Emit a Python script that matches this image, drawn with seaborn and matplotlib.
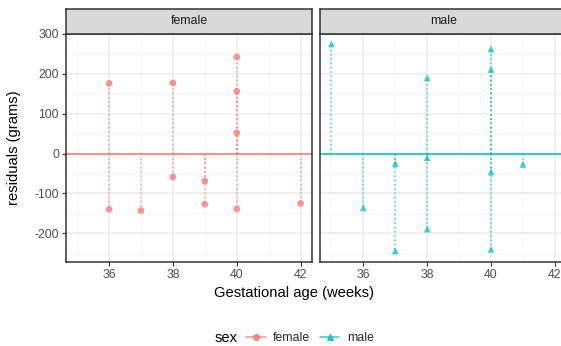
import numpy as np
import pandas as pd
import matplotlib
matplotlib.use("Agg")
import matplotlib.pyplot as plt
from matplotlib.lines import Line2D
import seaborn as sns

# ---- data ----
female_age = [36, 36, 37, 38, 38, 39, 39, 40, 40, 40, 40, 42]
female_resid = [176, -140, -143, 177, -59, -69, -127, 242, 156, 52, -139, -125]
male_age = [35, 36, 37, 37, 38, 38, 38, 40, 40, 40, 40, 41]
male_resid = [275, -136, -25, -244, 190, -10, -189, 262, 211, -46, -240, -27]
sexes = ["female", "male"]
x_ticks = [36, 38, 40, 42]
y_ticks = [-200, -100, 0, 100, 200, 300]

df = pd.DataFrame({
    "age": female_age + male_age,
    "resid": female_resid + male_resid,
    "sex": ["female"] * len(female_age) + ["male"] * len(male_age),
})

sns.set_theme(style="white")
plt.rcParams["font.family"] = ["Liberation Sans", "DejaVu Sans"]

colors = {"female": "#F8766D", "male": "#00BFC4"}
markers = {"female": "o", "male": "^"}

W, H = 561, 346
fig = plt.figure(figsize=(W / 100, H / 100), dpi=100)

def rect(x0, y0, x1, y1):
    return [x0 / W, 1 - y1 / H, (x1 - x0) / W, (y1 - y0) / H]

panel_top, panel_bot = 33.5, 261.7
strip_top = 9
panels = [(66, 311.7), (320.3, 566)]
xlim = (34.65, 42.35)
ylim = (-271, 301)
grey_border = "#333333"

for (x0, x1), sex in zip(panels, sexes):
    ax = fig.add_axes(rect(x0, panel_top, x1, panel_bot))
    sub = df[df["sex"] == sex]
    ax.set_xlim(*xlim)
    ax.set_ylim(*ylim)
    # grid
    for v in [35, 37, 39, 41]:
        ax.axvline(v, color="#F2F2F2", lw=0.55, zorder=0)
    for v in [-250, -150, -50, 50, 150, 250]:
        ax.axhline(v, color="#F2F2F2", lw=0.55, zorder=0)
    for v in x_ticks:
        ax.axvline(v, color="#EBEBEB", lw=1.1, zorder=0)
    for v in y_ticks:
        ax.axhline(v, color="#EBEBEB", lw=1.1, zorder=0)
    ax.axhline(0, color=colors[sex], lw=1.1, zorder=1)
    ax.vlines(sub["age"], 0, sub["resid"], colors=colors[sex], linestyles=(0, (1, 1.8)),
              lw=1.1, alpha=0.8, zorder=2)
    sns.scatterplot(data=sub, x="age", y="resid", color=colors[sex], marker=markers[sex],
                    s=24, alpha=0.75, edgecolor="none", linewidth=0, ax=ax, zorder=3,
                    legend=False)
    ax.set_xlabel("")
    ax.set_ylabel("")
    ax.set_xticks(x_ticks)
    ax.set_xticklabels([str(t) for t in x_ticks])
    ax.set_yticks(y_ticks)
    if sex == "female":
        ax.set_yticklabels([str(t) for t in y_ticks])
    else:
        ax.set_yticklabels([])
    ax.tick_params(axis="both", which="major", length=3, width=0.8, color=grey_border,
                   labelsize=8.8, labelcolor="#4D4D4D", pad=2, direction="out",
                   left=True, bottom=True)
    if sex == "male":
        ax.tick_params(axis="y", left=False)
    for sp in ax.spines.values():
        sp.set_color(grey_border)
        sp.set_linewidth(1.1)
        sp.set_visible(True)
    ax.grid(False)
    # strip
    sax = fig.add_axes(rect(x0, strip_top, x1, panel_top))
    sax.set_facecolor("#D9D9D9")
    sax.set_xticks([])
    sax.set_yticks([])
    for sp in sax.spines.values():
        sp.set_color(grey_border)
        sp.set_linewidth(1.1)
        sp.set_visible(True)
    sax.text(0.5, 0.5, sex, ha="center", va="center", fontsize=8.8, color="#1A1A1A",
             transform=sax.transAxes)

fig.text(294 / W, 1 - 293 / H, "Gestational age (weeks)", ha="center", va="center",
         fontsize=10.6, color="black")
fig.text(14 / W, 1 - 148 / H, "residuals (grams)", ha="center", va="center",
         rotation=90, fontsize=10.6, color="black")

# legend
fig.text(215 / W, 1 - 338 / H, "sex", ha="left", va="center", fontsize=10.6, color="black")
handles = [Line2D([0], [0], color=colors[s], marker=markers[s], markersize=4.2, lw=1.1,
                  alpha=0.8) for s in sexes]
fig.legend(handles, sexes, loc="center left", bbox_to_anchor=(246 / W, 1 - 338 / H),
           ncol=2, frameon=False, fontsize=8.8, handlelength=1.6, handletextpad=0.6,
           columnspacing=0.8, borderaxespad=0, borderpad=0)

fig.savefig("out.png", dpi=100)
